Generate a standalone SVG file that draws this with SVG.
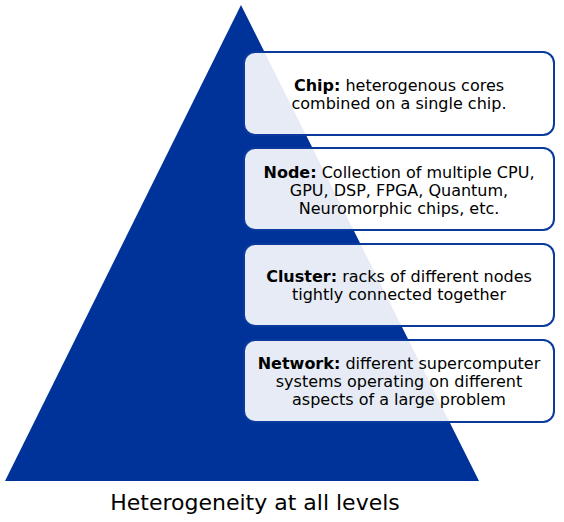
<svg xmlns="http://www.w3.org/2000/svg" width="564" height="522" viewBox="0 0 564 522">
<style>
.box{fill:#ffffff;fill-opacity:0.9;stroke:#0a3a9c;stroke-width:2}
.t{font-family:"DejaVu Sans",Verdana,sans-serif;font-size:16px;fill:#000;text-anchor:middle}
.b{font-weight:bold}
.cap{font-family:"DejaVu Sans",Verdana,sans-serif;font-size:22px;fill:#000;text-anchor:middle}
</style>
<rect width="564" height="522" fill="#ffffff"/>
<g id="pyramid"><polygon points="241,5 5,481 479,481" fill="#003399"/></g>
<g id="connectors"></g>
<g id="chip">
<rect class="box" x="244" y="52" width="310" height="83" rx="11"/>
<text class="t" x="399" y="91"><tspan class="b">Chip:</tspan> heterogenous cores</text>
<text class="t" x="399" y="109">combined on a single chip.</text>
</g>
<g id="node">
<rect class="box" x="244" y="148" width="310" height="82" rx="11"/>
<text class="t" x="399" y="178"><tspan class="b">Node:</tspan> Collection of multiple CPU,</text>
<text class="t" x="399" y="196">GPU, DSP, FPGA, Quantum,</text>
<text class="t" x="399" y="214">Neuromorphic chips, etc.</text>
</g>
<g id="cluster">
<rect class="box" x="244" y="244" width="310" height="82" rx="11"/>
<text class="t" x="399" y="282"><tspan class="b">Cluster:</tspan> racks of different nodes</text>
<text class="t" x="399" y="300">tightly connected together</text>
</g>
<g id="network">
<rect class="box" x="244" y="340" width="310" height="82" rx="11"/>
<text class="t" x="399" y="369"><tspan class="b">Network:</tspan> different supercomputer</text>
<text class="t" x="399" y="387">systems operating on different</text>
<text class="t" x="399" y="405">aspects of a large problem</text>
</g>
<g id="caption">
<text class="cap" x="255" y="510">Heterogeneity at all levels</text>
</g>
</svg>
